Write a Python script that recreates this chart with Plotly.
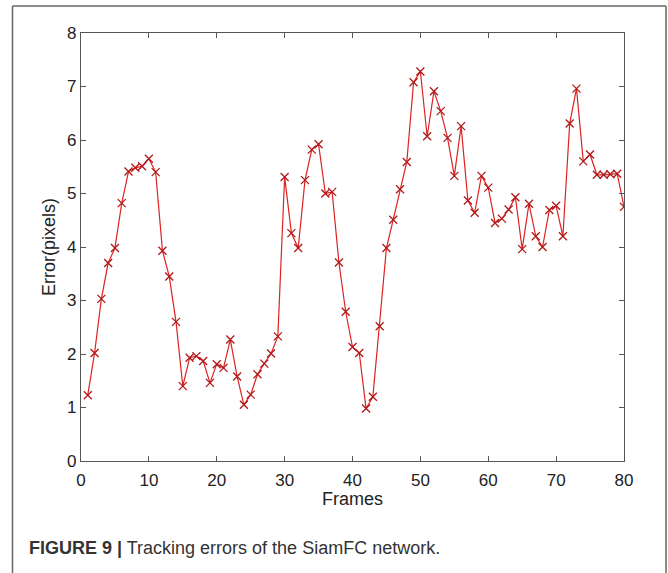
import plotly.graph_objects as go

frames = list(range(1, 81))
errors = [
    1.23, 2.02, 3.03, 3.70, 3.98, 4.82, 5.41, 5.48, 5.51, 5.65,
    5.40, 3.93, 3.45, 2.60, 1.40, 1.93, 1.96, 1.87, 1.46, 1.81,
    1.74, 2.27, 1.58, 1.05, 1.24, 1.62, 1.82, 2.01, 2.33, 5.31,
    4.26, 3.98, 5.25, 5.82, 5.92, 5.00, 5.03, 3.71, 2.79, 2.13,
    2.02, 0.98, 1.20, 2.52, 3.98, 4.51, 5.08, 5.59, 7.08, 7.28,
    6.07, 6.91, 6.54, 6.04, 5.33, 6.26, 4.87, 4.64, 5.33, 5.11,
    4.45, 4.53, 4.70, 4.93, 3.96, 4.81, 4.20, 4.00, 4.69, 4.77,
    4.20, 6.31, 6.96, 5.60, 5.73, 5.35, 5.35, 5.36, 5.37, 4.75,
]
x_ticks = [0, 10, 20, 30, 40, 50, 60, 70, 80]
y_ticks = [0, 1, 2, 3, 4, 5, 6, 7, 8]

W, H = 668, 573
L, R, T, B = 81, 44, 33, 112
pw, ph = W - L - R, H - T - B

def px(x):
    return (x - L) / pw

def py(y):
    return (H - B - y) / ph

fig = go.Figure()
fig.add_trace(go.Scatter(
    x=frames, y=errors, mode="lines+markers",
    line=dict(color="#dd2222", width=1.2),
    marker=dict(symbol="x-thin-open", size=8, color="#b01818",
                line=dict(color="#b01818", width=1.3)),
    showlegend=False,
))

font = "Liberation Sans, Arial, sans-serif"
axis_common = dict(
    showgrid=False, zeroline=False, showline=True, mirror="allticks",
    linecolor="#555555", linewidth=1.2, ticks="inside", ticklen=5,
    tickcolor="#555555", tickwidth=1,
    tickfont=dict(family=font, size=17, color="#222222"),
)
fig.update_xaxes(range=[0, 80], tickvals=x_ticks, ticklabelstandoff=3,
                 title=dict(text="Frames", font=dict(family=font, size=18, color="#222222"), standoff=2),
                 **axis_common)
fig.update_yaxes(range=[0, 8], tickvals=y_ticks,
                 title=dict(text="Error(pixels)", font=dict(family=font, size=18, color="#222222"), standoff=6),
                 **axis_common)

# outer figure frame (open at the bottom)
frame_line = dict(color="#666666", width=1.5)
fig.add_shape(type="line", xref="paper", yref="paper",
              x0=px(12.5), x1=px(12.5), y0=py(575), y1=py(6), line=frame_line)
fig.add_shape(type="line", xref="paper", yref="paper",
              x0=px(12.5), x1=px(666), y0=py(6), y1=py(6), line=frame_line)
fig.add_shape(type="line", xref="paper", yref="paper",
              x0=px(666), x1=px(666), y0=py(575), y1=py(6), line=frame_line)

fig.add_annotation(
    xref="paper", yref="paper", x=px(27), y=py(548), xanchor="left", yanchor="middle",
    text="<b>FIGURE 9 |</b> Tracking errors of the SiamFC network.",
    showarrow=False, font=dict(family=font, size=18, color="#333333"),
)

fig.update_layout(
    width=W, height=H, margin=dict(l=L, r=R, t=T, b=B),
    paper_bgcolor="white", plot_bgcolor="white",
)
fig.write_html("out.html", config={"displayModeBar": False},
               post_script="document.body.style.margin='0';")
